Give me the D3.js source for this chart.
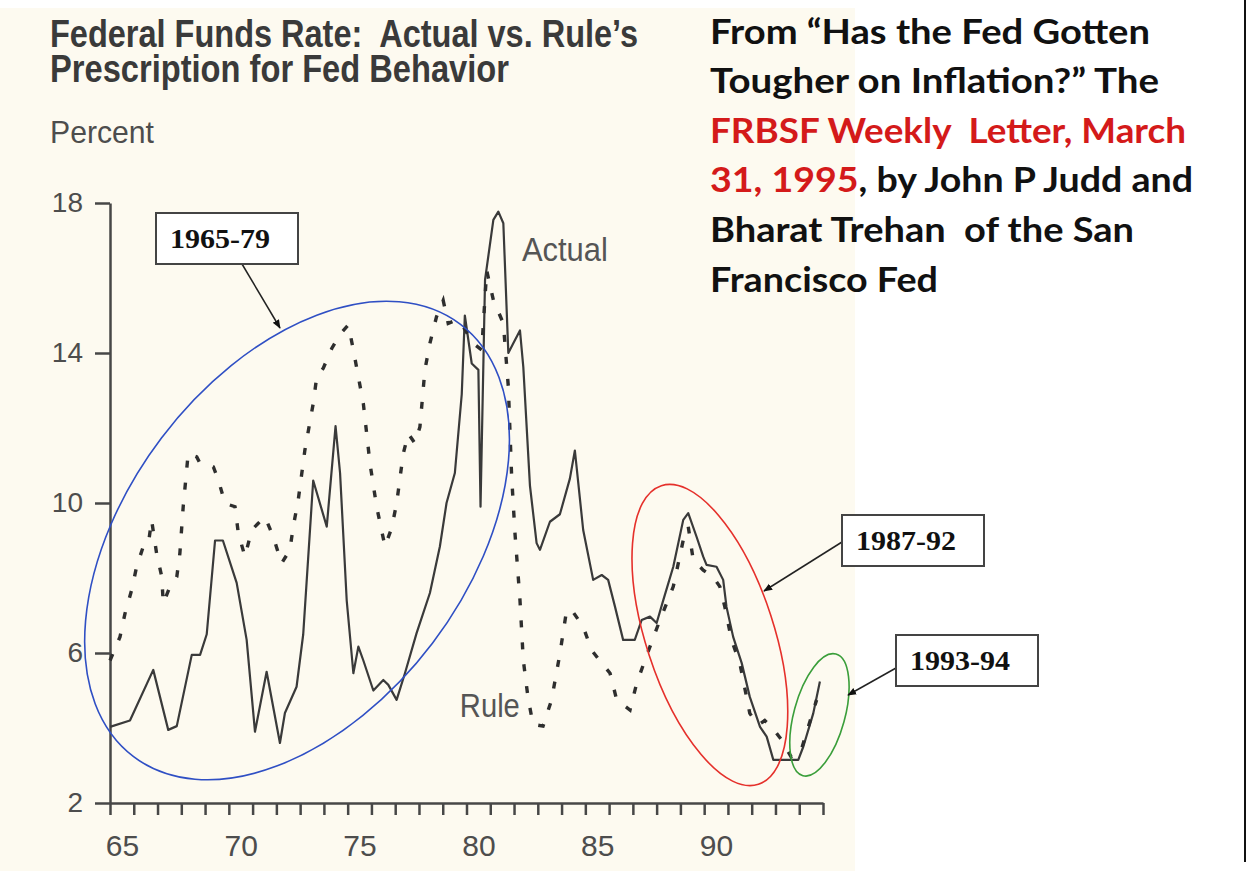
<!DOCTYPE html>
<html>
<head>
<meta charset="utf-8">
<script src="https://cdn.jsdelivr.net/npm/d3@7"></script>
<style>
  body { margin: 0; background: #fff; }
  svg { display: block; }
  .axis .domain, .axis line { stroke: #474747; stroke-width: 2.5; }
  .axis text { font-family: "Liberation Sans", Arial, sans-serif; fill: #4d4d4d; }
  .note { font-family: "Liberation Serif", "Times New Roman", serif; font-weight: bold; font-size: 27px; fill: #111; }
  .src { font-family: Lato, "Open Sans", sans-serif; font-weight: bold; font-size: 35px; fill: #111; white-space: pre; }
</style>
</head>
<body>
<div id="plot"></div>
<script>
// year (fraction of year, 65 = 1965) and percent
var actualSeries = [
  [65.00, 4.03], [65.84, 4.2], [66.82, 5.55], [67.45, 3.95], [67.81, 4.05], [68.44, 5.95],
  [68.79, 5.95], [69.07, 6.5], [69.42, 9.0], [69.75, 9.0], [70.33, 7.87], [70.75, 6.35],
  [71.10, 3.9], [71.59, 5.5], [72.15, 3.6], [72.36, 4.4], [72.85, 5.1], [73.13, 6.5],
  [73.55, 10.6], [74.12, 9.37], [74.49, 12.05], [74.68, 10.8], [74.96, 7.4], [75.24, 5.46],
  [75.45, 6.17], [75.66, 5.8], [76.08, 5.0], [76.50, 5.28], [76.71, 5.15], [77.06, 4.75],
  [77.41, 5.46], [77.90, 6.53], [78.46, 7.6], [78.88, 8.84], [79.16, 10.0], [79.51, 10.8],
  [79.80, 12.9], [79.93, 15.0], [80.22, 13.72], [80.50, 13.55], [80.59, 9.9], [80.78, 15.95],
  [81.13, 17.55], [81.34, 17.77], [81.55, 17.46], [81.76, 14.0], [81.97, 14.26], [82.25, 14.6],
  [82.39, 13.63], [82.67, 10.46], [82.95, 8.93], [83.09, 8.75], [83.51, 9.5], [83.93, 9.7],
  [84.35, 10.65], [84.56, 11.4], [84.91, 9.28], [85.33, 7.95], [85.69, 8.08], [85.96, 7.95],
  [86.25, 7.23], [86.59, 6.35], [87.08, 6.35], [87.37, 6.88], [87.72, 6.97], [88.00, 6.8],
  [88.28, 7.41], [88.70, 8.3], [89.12, 9.55], [89.33, 9.73], [89.68, 9.1], [89.96, 8.57],
  [90.10, 8.35], [90.52, 8.3], [90.80, 7.95], [90.94, 7.23], [91.22, 6.43], [91.58, 5.73],
  [91.92, 4.83], [92.35, 4.03], [92.63, 3.77], [92.91, 3.15], [93.96, 3.15], [94.17, 3.5],
  [94.59, 4.39], [94.87, 5.24]
];

var ruleSeries = [
  [65.00, 5.8], [65.42, 6.43], [65.63, 7.05], [65.91, 7.68], [66.12, 8.3], [66.40, 8.84],
  [66.61, 8.88], [66.75, 9.55], [66.96, 8.66], [67.18, 8.03], [67.24, 7.32], [67.52, 7.77],
  [67.81, 8.03], [67.94, 8.66], [68.08, 9.9], [68.29, 11.32], [68.65, 11.23], [68.79, 11.05],
  [69.35, 10.96], [69.56, 10.61], [69.84, 9.99], [70.26, 9.9], [70.40, 9.19], [70.68, 8.57],
  [70.96, 9.28], [71.24, 9.46], [71.52, 9.63], [71.87, 9.1], [72.22, 8.39], [72.57, 8.75],
  [72.71, 9.37], [72.92, 10.08], [73.20, 11.41], [73.55, 12.65], [73.70, 13.37], [73.97, 13.59],
  [74.33, 14.12], [74.68, 14.5], [75.03, 14.75], [75.24, 14.08], [75.66, 12.65], [75.94, 11.05],
  [76.22, 9.9], [76.57, 8.84], [76.85, 9.33], [77.06, 9.99], [77.34, 11.32], [77.55, 11.85],
  [77.83, 11.59], [78.04, 12.03], [78.25, 13.55], [78.46, 14.26], [78.74, 14.97], [79.02, 15.4],
  [79.23, 14.79], [79.59, 14.88], [79.86, 14.7], [80.28, 14.26], [80.64, 14.08], [80.85, 16.2],
  [81.13, 15.41], [81.55, 14.79], [81.76, 13.1], [81.90, 10.7], [82.04, 9.19], [82.25, 7.41],
  [82.39, 5.81], [82.59, 4.8], [82.80, 4.1], [83.22, 4.05], [83.58, 4.75], [83.93, 5.98],
  [84.21, 7.13], [84.42, 7.15], [84.91, 6.7], [85.26, 6.08], [85.69, 5.73], [86.04, 5.46],
  [86.32, 4.75], [86.88, 4.48], [87.16, 5.19], [87.51, 5.81], [87.93, 6.53], [88.14, 6.88],
  [88.70, 7.77], [89.12, 9.01], [89.33, 9.37], [89.54, 8.48], [89.96, 8.21], [90.38, 8.03],
  [90.66, 7.77], [90.87, 7.23], [91.15, 6.35], [91.50, 5.73], [91.92, 4.39], [92.27, 4.08],
  [92.55, 4.2], [92.84, 4.03], [93.26, 3.68], [93.66, 3.23], [94.04, 3.32], [94.38, 4.03],
  [94.73, 4.75]
];

var yTicks = [2, 6, 10, 14, 18];
var yearTicks = d3.range(65, 96);
var xLabels = [65, 70, 75, 80, 85, 90];

var titleLines = ["Federal Funds Rate:  Actual vs. Rule\u2019s", "Prescription for Fed Behavior"];
var periods = ["1965-79", "1987-92", "1993-94"];

var margin = { top: 203, left: 110 };
var width = 713;
var height = 600;

var svg = d3.select("div#plot")
  .append("svg")
    .attr("width", 1249)
    .attr("height", 871);

// cream paper of the scanned figure
svg.append("rect")
  .attr("x", 0).attr("y", 8)
  .attr("width", 855).attr("height", 863)
  .attr("fill", "#fdfaf0");

svg.append("line")
  .attr("x1", 1245).attr("x2", 1245)
  .attr("y1", 0).attr("y2", 862)
  .attr("stroke", "#111").attr("stroke-width", 2);

// title block
svg.selectAll("text.title")
  .data(titleLines)
  .enter().append("text")
    .attr("class", "title")
    .attr("x", 50)
    .attr("y", function(d, i) { return 46.5 + i * 35; })
    .attr("textLength", function(d, i) { return i == 0 ? 588 : 459; })
    .attr("lengthAdjust", "spacingAndGlyphs")
    .style("white-space", "pre")
    .style("font-family", "'Liberation Sans', Arial, sans-serif")
    .style("font-weight", "bold")
    .style("font-size", "38px")
    .style("fill", "#3a3a3a")
    .text(function(d) { return d; });

svg.append("text")
  .attr("x", 50)
  .attr("y", 143)
  .attr("textLength", 104)
  .attr("lengthAdjust", "spacingAndGlyphs")
  .style("font-family", "'Liberation Sans', Arial, sans-serif")
  .style("font-size", "32px")
  .style("fill", "#4d4d4d")
  .text("Percent");

var g = svg.append("g")
  .attr("transform", "translate(" + margin.left + "," + margin.top + ")");

var x = d3.scaleLinear()
  .domain([65, 95])
  .range([0, width]);

var y = d3.scaleLinear()
  .domain([2, 18])
  .range([height, 0]);

var yAxis = d3.axisLeft(y)
  .tickValues(yTicks)
  .tickSize(15)
  .tickSizeOuter(0)
  .tickPadding(12);

var xAxis = d3.axisBottom(x)
  .tickValues(yearTicks)
  .tickSize(12)
  .tickSizeOuter(0)
  .tickFormat("");

// labels sit in the middle of each year
var xLabelAxis = d3.axisBottom(x)
  .tickValues(xLabels.map(function(d) { return d + 0.5; }))
  .tickSize(0)
  .tickPadding(32)
  .tickFormat(function(d) { return Math.floor(d); });

g.append("g")
  .attr("class", "x axis")
  .attr("transform", "translate(0," + height + ")")
  .call(xAxis);

g.append("g")
  .attr("class", "x axis labels")
  .attr("transform", "translate(0," + height + ")")
  .call(xLabelAxis)
  .call(function(s) { s.select(".domain").remove(); })
  .selectAll("text")
    .style("font-size", "30px");

g.append("g")
  .attr("class", "y axis")
  .call(yAxis)
  .selectAll("text")
    .style("font-size", "28px");

var line = d3.line()
  .x(function(d) { return x(d[0]); })
  .y(function(d) { return y(d[1]); });

g.append("path")
  .datum(actualSeries)
  .attr("d", line)
  .attr("fill", "none")
  .attr("stroke", "#3a3a3a")
  .attr("stroke-width", 2.2)
  .attr("stroke-linejoin", "round");

g.append("path")
  .datum(ruleSeries)
  .attr("d", line)
  .attr("fill", "none")
  .attr("stroke", "#2e2e2e")
  .attr("stroke-width", 3.4)
  .attr("stroke-dasharray", "7,15");

// series labels
g.append("text")
  .attr("x", x(82.33))
  .attr("y", y(16.45))
  .attr("textLength", 86)
  .attr("lengthAdjust", "spacingAndGlyphs")
  .style("font-family", "'Liberation Sans', Arial, sans-serif")
  .style("font-size", "34px")
  .style("fill", "#555")
  .text("Actual");

g.append("text")
  .attr("x", x(79.72))
  .attr("y", y(4.29))
  .attr("textLength", 60)
  .attr("lengthAdjust", "spacingAndGlyphs")
  .style("font-family", "'Liberation Sans', Arial, sans-serif")
  .style("font-size", "33px")
  .style("fill", "#555")
  .text("Rule");

// highlighted periods
var rings = [
  { t: 72.87, v: 9.0, rx: 271, ry: 170, angle: -52.9, color: "#2f4fc4" },
  { t: 90.24, v: 6.48, rx: 157, ry: 64, angle: 72, color: "#e5302b" },
  { t: 94.85, v: 4.35, rx: 63, ry: 25.5, angle: -74.8, color: "#3a9e3a" }
];

g.selectAll("ellipse.ring")
  .data(rings)
  .enter().append("ellipse")
    .attr("class", "ring")
    .attr("rx", function(d) { return d.rx; })
    .attr("ry", function(d) { return d.ry; })
    .attr("transform", function(d) {
      return "translate(" + x(d.t) + "," + y(d.v) + ") rotate(" + d.angle + ")";
    })
    .attr("fill", "none")
    .attr("stroke", function(d) { return d.color; })
    .attr("stroke-width", 1.6);

svg.append("defs").append("marker")
  .attr("id", "head")
  .attr("viewBox", "0 0 10 10")
  .attr("refX", 9).attr("refY", 5)
  .attr("markerWidth", 9).attr("markerHeight", 9)
  .attr("markerUnits", "userSpaceOnUse")
  .attr("orient", "auto")
  .append("path")
    .attr("d", "M0,1L10,5L0,9Z")
    .attr("fill", "#111");

var boxes = [
  { x: 156, y: 213, from: [242, 264], to: [280, 328] },
  { x: 842, y: 515, from: [842, 542], to: [764, 591] },
  { x: 896, y: 635, from: [896, 668], to: [848, 695] }
];

svg.selectAll("line.pointer")
  .data(boxes)
  .enter().append("line")
    .attr("class", "pointer")
    .attr("x1", function(d) { return d.from[0]; })
    .attr("y1", function(d) { return d.from[1]; })
    .attr("x2", function(d) { return d.to[0]; })
    .attr("y2", function(d) { return d.to[1]; })
    .attr("stroke", "#222")
    .attr("stroke-width", 1.5)
    .attr("marker-end", "url(#head)");

var box = svg.selectAll("g.box")
  .data(boxes)
  .enter().append("g")
    .attr("class", "box")
    .attr("transform", function(d) { return "translate(" + d.x + "," + d.y + ")"; });

box.append("rect")
  .attr("width", 142)
  .attr("height", 51)
  .attr("fill", "#fff")
  .attr("stroke", "#444")
  .attr("stroke-width", 2);

box.append("text")
  .attr("class", "note")
  .attr("x", 14)
  .attr("y", 35)
  .attr("textLength", 100)
  .attr("lengthAdjust", "spacingAndGlyphs")
  .text(function(d, i) { return periods[i]; });

// source note, right side
var source = [
  [["From \u201cHas the Fed Gotten", "#111"]],
  [["Tougher on Inflation?\u201d The", "#111"]],
  [["FRBSF Weekly  Letter, March", "#d41a1a"]],
  [["31, 1995", "#d41a1a"], [", by John P Judd and", "#111"]],
  [["Bharat Trehan  of the San", "#111"]],
  [["Francisco Fed", "#111"]]
];
var sourceWidths = [440, 449, 476, 483, 424, 228];

var src = svg.selectAll("text.src")
  .data(source)
  .enter().append("text")
    .attr("class", "src")
    .attr("x", 710)
    .attr("y", function(d, i) { return 43.5 + i * 49.6; })
    .attr("textLength", function(d, i) { return sourceWidths[i]; })
    .attr("lengthAdjust", "spacingAndGlyphs");

src.selectAll("tspan")
  .data(function(d) { return d; })
  .enter().append("tspan")
    .style("fill", function(d) { return d[1]; })
    .text(function(d) { return d[0]; });
</script>
</body>
</html>
